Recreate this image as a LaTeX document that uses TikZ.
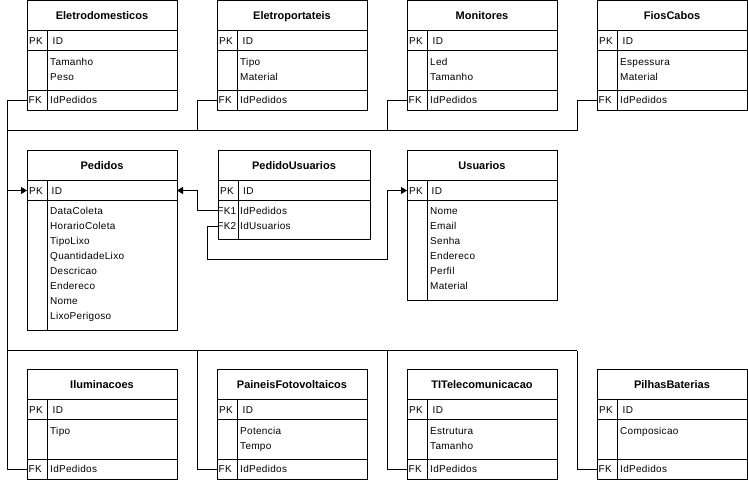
\documentclass[tikz,border=0pt]{standalone}
\usepackage{fontspec}
\setmainfont{Liberation Sans}
\newfontfamily\fieldfont[LetterSpace=3]{Liberation Sans}
\usetikzlibrary{arrows.meta}
\tikzset{
  ln/.style={line width=0.9pt},
  arr/.style={line width=0.9pt, -{Triangle[length=6pt,width=7pt]}},
  tbl/.style={draw, line width=0.9pt, anchor=north west, inner sep=0pt, outer sep=0pt},
  fld/.style={anchor=west, inner sep=0pt, font=\fieldfont\fontsize{10}{12}\selectfont, text height=7pt, text depth=0pt},
  fldr/.style={fld, anchor=east},
  ttl/.style={inner sep=0pt, font=\bfseries\fontsize{11}{13}\selectfont, text height=8pt, text depth=0pt}
}
% name, x0, ytop, title, attr1, attr2
\newcommand{\ertbl}[6]{%
  \node[tbl, minimum width=150pt, minimum height=110pt] (#1) at (#2,#3) {};
  \draw[ln] (#2,#3+30) -- ++(150,0);
  \draw[ln] (#2,#3+50) -- ++(150,0);
  \draw[ln] (#2,#3+90) -- ++(150,0);
  \draw[ln] (#2+20,#3+30) -- (#2+20,#3+110);
  \node[ttl] (#1-t) at (#2+75,#3+15) {#4};
  \node[fld] (#1-pkl) at (#2+2,#3+40) {PK};
  \node[fld] (#1-id) at (#2+25.5,#3+40) {ID};
  \node[fld] (#1-a1) at (#2+23,#3+61) {#5};
  \node[fld] (#1-a2) at (#2+23,#3+76) {#6};
  \node[fldr] (#1-fkl) at (#2+15,#3+99.5) {FK};
  \node[fld] (#1-fk) at (#2+23,#3+99.5) {IdPedidos};
  \coordinate (#1-in) at (#2,#3+99.5);
}
\begin{document}
\begin{tikzpicture}[x=1pt,y=-1pt]
\useasboundingbox (0,0) rectangle (748,480);
% top row
\ertbl{eldom}{27}{0.5}{Eletrodomesticos}{Tamanho}{Peso}
\ertbl{elport}{217}{0.5}{Eletroportateis}{Tipo}{Material}
\ertbl{monit}{407}{0.5}{Monitores}{Led}{Tamanho}
\ertbl{fios}{597}{0.5}{FiosCabos}{Espessura}{Material}
% bottom row
\ertbl{ilum}{27}{369.5}{Iluminacoes}{Tipo}{}
\ertbl{pain}{217}{369.5}{PaineisFotovoltaicos}{Potencia}{Tempo}
\ertbl{ti}{407}{369.5}{TITelecomunicacao}{Estrutura}{Tamanho}
\ertbl{pilhas}{597}{369.5}{PilhasBaterias}{Composicao}{}
% Pedidos
\node[tbl, minimum width=150pt, minimum height=180pt] (ped) at (27,150.5) {};
\draw[ln] (27,180.5) -- (177,180.5);
\draw[ln] (27,200.5) -- (177,200.5);
\draw[ln] (47,180.5) -- (47,330.5);
\node[ttl] (ped-t) at (102,165.5) {Pedidos};
\node[fld] (ped-pkl) at (29,190.5) {PK};
\node[fld] (ped-id) at (51.5,190.5) {ID};
\foreach \t [count=\i from 0] in {DataColeta,HorarioColeta,TipoLixo,QuantidadeLixo,Descricao,Endereco,Nome,LixoPerigoso}
  \node[fld] (ped-a\i) at (50,210.7+15*\i) {\t};
\coordinate (ped-pkL) at (27,190.5);
\coordinate (ped-pkR) at (177,190.5);
% PedidoUsuarios
\node[tbl, minimum width=152pt, minimum height=89pt] (pu) at (218,150.5) {};
\draw[ln] (218,180.5) -- (370,180.5);
\draw[ln] (218,200.5) -- (370,200.5);
\draw[ln] (238,180.5) -- (238,239.5);
\node[ttl] (pu-t) at (294,165.5) {PedidoUsuarios};
\node[fld] (pu-pkl) at (220,190.5) {PK};
\node[fld] (pu-id) at (243,190.5) {ID};
\node[fldr] (pu-fk1l) at (236.5,210.7) {FK1};
\node[fldr] (pu-fk2l) at (236.5,226) {FK2};
\node[fld] (pu-fk1) at (240,210.7) {IdPedidos};
\node[fld] (pu-fk2) at (240,226) {IdUsuarios};
\coordinate (pu-in1) at (218,210.7);
\coordinate (pu-in2) at (218,226);
% Usuarios
\node[tbl, minimum width=150pt, minimum height=150pt] (usr) at (407,150.5) {};
\draw[ln] (407,180.5) -- (557,180.5);
\draw[ln] (407,200.5) -- (557,200.5);
\draw[ln] (427,180.5) -- (427,300.5);
\node[ttl] (usr-t) at (482,165.5) {Usuarios};
\node[fld] (usr-pkl) at (409,190.5) {PK};
\node[fld] (usr-id) at (431.5,190.5) {ID};
\foreach \t [count=\i from 0] in {Nome,Email,Senha,Endereco,Perfil,Material}
  \node[fld] (usr-a\i) at (430,210.7+15*\i) {\t};
\coordinate (usr-pkL) at (407,190.5);
% bus coordinates
\coordinate (lx) at (7,0);
\coordinate (cx1) at (197,0);
\coordinate (cx1b) at (207,0);
\coordinate (cx2) at (387,0);
\coordinate (cx3) at (577,0);
\coordinate (tb) at (0,130.5);
\coordinate (bb) at (0,350.5);
\coordinate (lowy) at (0,259.5);
% left trunk
\draw[ln] (eldom-in) -- (eldom-in -| lx) -- (ilum-in -| lx) -- (ilum-in);
\draw[arr] (ped-pkL -| lx) -- (ped-pkL);
% top bus
\draw[ln] (tb -| lx) -- (tb -| cx3);
\draw[ln] (elport-in) -- (elport-in -| cx1) -- (tb -| cx1);
\draw[ln] (monit-in) -- (monit-in -| cx2) -- (tb -| cx2);
\draw[ln] (fios-in) -- (fios-in -| cx3) -- (tb -| cx3);
% bottom bus
\draw[ln] (bb -| lx) -- (bb -| cx3);
\draw[ln] (pain-in) -- (pain-in -| cx1) -- (bb -| cx1);
\draw[ln] (ti-in) -- (ti-in -| cx2) -- (bb -| cx2);
\draw[ln] (pilhas-in) -- (pilhas-in -| cx3) -- (bb -| cx3);
% PedidoUsuarios links
\draw[arr] (pu-in1) -- (pu-in1 -| cx1) -- (ped-pkR -| cx1) -- (ped-pkR);
\draw[arr] (pu-in2) -- (pu-in2 -| cx1b) -- (lowy -| cx1b) -- (lowy -| cx2) -- (usr-pkL -| cx2) -- (usr-pkL);
\end{tikzpicture}
\end{document}
